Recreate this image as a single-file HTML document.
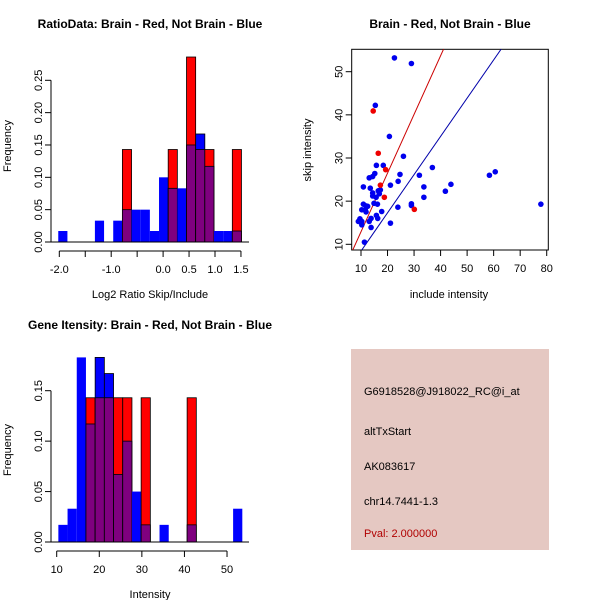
<!DOCTYPE html>
<html><head><meta charset="utf-8"><style>
body{margin:0;background:#fff}
svg{display:block;font-family:"Liberation Sans",Arial,sans-serif}
</style></head><body>
<svg id="chart" width="600" height="600" viewBox="0 0 600 600">
<rect width="600" height="600" fill="#fff"/>
<g id="p1"></g>
<g id="p2"></g>
<g id="p3"></g>
<g>
<rect x="351" y="349" width="198" height="201" fill="#e5c8c2"/>
<text x="364" y="395" font-size="11">G6918528@J918022_RC@i_at</text>
<text x="364" y="435" font-size="11">altTxStart</text>
<text x="364" y="470" font-size="11">AK083617</text>
<text x="364" y="505" font-size="11">chr14.7441-1.3</text>
<text x="364" y="537" font-size="11" fill="#b00000">Pval: 2.000000</text>
</g>
</svg>
<script>
// ---- data ----
const ratioBlue=[0.017,0,0,0,0.033,0,0.033,0.05,0.05,0.05,0.017,0.1,0.083,0.083,0.15,0.167,0.117,0.017,0.017,0.017];
const ratioRed=[0,0,0,0,0,0,0,0.143,0,0,0,0,0.143,0,0.286,0.143,0.143,0,0,0.143];
const ratioStart=-2.02, ratioWidth=0.1765;
const ratioXTicks=[-2.0,-1.5,-1.0,-0.5,0.0,0.5,1.0,1.5];
const ratioXLabels=["-2.0","","-1.0","","0.0","0.5","1.0","1.5"];
const ratioYTicks=[0,0.05,0.10,0.15,0.20,0.25];
const ratioYLabels=["0.00","0.05","0.10","0.15","0.20","0.25"];

const intBlue=[0.017,0.033,0.183,0.117,0.183,0.167,0.067,0.1,0.05,0.017,0,0.017,0,0,0.017,0,0,0,0,0.033];
const intRed=[0,0,0,0.143,0.143,0.143,0.143,0.143,0,0.143,0,0,0,0,0.143,0,0,0,0,0];
const intStart=10.39, intWidth=2.16;
const intXTicks=[10,20,30,40,50];
const intXLabels=["10","20","30","40","50"];
const intYTicks=[0,0.05,0.10,0.15];
const intYLabels=["0.00","0.05","0.10","0.15"];

const blueX=[22.6,29.0,15.4,20.7,26.0,15.8,18.4,15.2,14.4,13.1,24.7,32.0,36.9,58.4,60.6,10.9,13.5,21.1,24.0,33.7,43.9,41.8,14.4,16.5,17.3,14.4,15.7,33.7,16.9,14.9,16.2,10.9,11.9,12.5,10.3,11.6,11.9,17.8,23.9,29.0,29.0,77.8,15.8,16.3,13.8,13.1,9.6,9.0,10.3,10.3,13.8,21.1,11.3];
const blueY=[53.2,51.9,42.2,35.0,30.4,28.3,28.3,26.4,25.7,25.4,26.2,26.0,27.8,26.0,26.8,23.3,23.0,23.7,24.6,23.3,23.9,22.3,21.9,22.4,22.6,21.2,20.9,20.9,21.7,19.5,19.3,19.3,18.9,18.8,18.0,18.0,17.5,17.6,18.6,19.4,19.0,19.3,16.7,16.0,16.0,15.3,15.9,15.3,15.3,14.5,13.9,14.9,10.5];
const redX=[14.6,16.5,19.3,17.3,18.8,30.1];
const redY=[40.9,31.1,27.3,23.7,20.9,18.1];
const redLine=[1.36,-0.7];   // slope, intercept
const blueLine=[0.886,-0.43];
const scXTicks=[10,20,30,40,50,60,70,80];
const scYTicks=[10,20,30,40,50];

const NS="http://www.w3.org/2000/svg";
function mk(parent,tag,attrs){const e=document.createElementNS(NS,tag);for(const k in attrs)e.setAttribute(k,attrs[k]);parent.appendChild(e);return e;}
function txt(parent,x,y,s,attrs){const t=mk(parent,'text',Object.assign({x:x,y:y,'font-size':11,'text-anchor':'middle'},attrs||{}));t.textContent=s;return t;}

function hist(g,o){
  const sx=v=>o.x0+(v-o.vx0)*o.kx, sy=v=>o.y0-v*o.ky;
  for(let i=0;i<o.blue.length;i++){
    const l=sx(o.start+i*o.w), r=sx(o.start+(i+1)*o.w);
    const b=o.blue[i], rd=o.red[i], m=Math.min(b,rd), M=Math.max(b,rd);
    if(M<=0) continue;
    const top=b>=rd?'#0000ff':'#ff0000';
    let e=mk(g,'rect',{x:l,y:sy(M),width:r-l,height:sy(0)-sy(M),fill:top,stroke:rd>0?'#000':'none','stroke-width':0.8});
    
    
    if(m>0){
      e=mk(g,'rect',{x:l,y:sy(m),width:r-l,height:sy(0)-sy(m),fill:'#7f007f',stroke:'#000','stroke-width':0.8});
      
      
    }
  }
  // baseline
  mk(g,'line',{x1:o.baseL,x2:o.baseR,y1:o.y0,y2:o.y0,stroke:'#000'});
  // x axis
  const xa=mk(g,'g',{});
  
  
  mk(xa,'line',{x1:sx(o.xt[0]),x2:sx(o.xt[o.xt.length-1]),y1:o.xaY,y2:o.xaY,stroke:'#000'});
  o.xt.forEach((v,i)=>{mk(xa,'line',{x1:sx(v),x2:sx(v),y1:o.xaY,y2:o.xaY+6,stroke:'#000'});if(o.xl[i])txt(xa,sx(v),o.xaY+22,o.xl[i]);});
  const ya=mk(g,'g',{});
  
  
  mk(ya,'line',{x1:o.yaX,x2:o.yaX,y1:sy(o.yt[0]),y2:sy(o.yt[o.yt.length-1]),stroke:'#000'});
  o.yt.forEach((v,i)=>{mk(ya,'line',{x1:o.yaX,x2:o.yaX-6,y1:sy(v),y2:sy(v),stroke:'#000'});txt(ya,0,0,o.yl[i],{transform:`translate(${o.yaX-13},${sy(v)}) rotate(-90)`,dy:'0.35em'});});
}

const p1=document.getElementById('p1');
hist(p1,{x0:59.3,vx0:-2.0,kx:51.9,y0:242,ky:646.8,blue:ratioBlue,red:ratioRed,start:ratioStart,w:ratioWidth,baseL:51,baseR:249,xaY:251,yaX:51,xt:ratioXTicks,xl:ratioXLabels,yt:ratioYTicks,yl:ratioYLabels});
let t=txt(p1,150,28,'RatioData: Brain - Red, Not Brain - Blue',{'font-weight':'bold','font-size':12});

t=txt(p1,150,298,'Log2 Ratio Skip/Include');

t=txt(p1,0,0,'Frequency',{transform:'translate(11,146) rotate(-90)'});


const p3=document.getElementById('p3');
hist(p3,{x0:56.7,vx0:10,kx:4.258,y0:542,ky:1008.7,blue:intBlue,red:intRed,start:intStart,w:intWidth,baseL:51,baseR:249,xaY:551,yaX:51,xt:intXTicks,xl:intXLabels,yt:intYTicks,yl:intYLabels});
t=txt(p3,150,329,'Gene Itensity: Brain - Red, Not Brain - Blue',{'font-weight':'bold','font-size':12});

t=txt(p3,150,598,'Intensity');

t=txt(p3,0,0,'Frequency',{transform:'translate(11,450) rotate(-90)'});


// scatter
const p2=document.getElementById('p2');
const L=351.7,R=548.3,T=49.3,B=250;
const sx=v=>361+(v-10)*2.653, sy=v=>244.3-(v-10)*4.315;
const cp=mk(p2,'clipPath',{id:'clip'});mk(cp,'rect',{x:L,y:T,width:R-L,height:B-T});
mk(p2,'rect',{x:L,y:T,width:R-L,height:B-T,fill:'none',stroke:'#000'});
[[redLine,'#cc0000','red-fit-line'],[blueLine,'#0000aa','blue-fit-line']].forEach(([ln,c,n])=>{
  const x1=0,x2=100;
  const e=mk(p2,'line',{x1:sx(x1),y1:sy(ln[0]*x1+ln[1]),x2:sx(x2),y2:sy(ln[0]*x2+ln[1]),stroke:c,'stroke-width':1,'clip-path':'url(#clip)'});
  
  
});
blueX.forEach((v,i)=>{const e=mk(p2,'circle',{cx:sx(v),cy:sy(blueY[i]),r:2.8,fill:'#0000ee'});
  
  });
redX.forEach((v,i)=>{const e=mk(p2,'circle',{cx:sx(v),cy:sy(redY[i]),r:2.8,fill:'#ee0000'});
  
  });
scXTicks.forEach(v=>{mk(p2,'line',{x1:sx(v),x2:sx(v),y1:B,y2:B+6,stroke:'#000'});txt(p2,sx(v),B+22,String(v));});
scYTicks.forEach(v=>{mk(p2,'line',{x1:L,x2:L-6,y1:sy(v),y2:sy(v),stroke:'#000'});txt(p2,0,0,String(v),{transform:`translate(${L-13},${sy(v)}) rotate(-90)`,dy:'0.35em'});});
t=txt(p2,450,28,'Brain - Red, Not Brain - Blue',{'font-weight':'bold','font-size':12});

t=txt(p2,449,298,'include intensity');

t=txt(p2,0,0,'skip intensity',{transform:'translate(311,150) rotate(-90)'});

</script>
</body></html>
